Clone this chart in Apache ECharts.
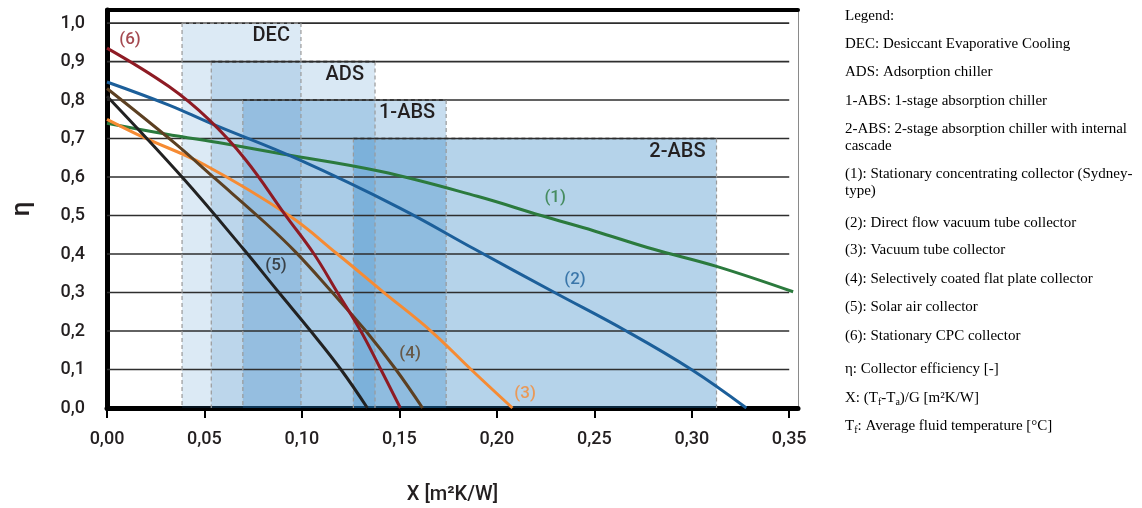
<!DOCTYPE html>
<html><head><meta charset="utf-8">
<script src="https://cdn.jsdelivr.net/npm/echarts@6/dist/echarts.min.js"></script>
<style>html,body{margin:0;padding:0;background:#fff}#c{width:1142px;height:508px}</style>
</head><body><div id="c"></div>
<script>
// ---------- data ----------
const curveNames = ['(1)', '(2)', '(3)', '(4)', '(5)', '(6)'];
const curve1 = [[0,0.74],[0.03,0.712],[0.06,0.687],[0.09,0.66],[0.14,0.615],[0.19,0.55],[0.2227,0.50],[0.25,0.46],[0.28,0.413],[0.3127,0.368],[0.352,0.302]];
const curve2 = [[0,0.847],[0.0318,0.787],[0.053,0.74],[0.0985,0.645],[0.15,0.52],[0.1885,0.413],[0.2296,0.30],[0.2664,0.20],[0.2998,0.10],[0.328,0]];
const curve3 = [[0,0.75],[0.018,0.705],[0.05,0.632],[0.0934,0.50],[0.1182,0.40],[0.1413,0.303],[0.1662,0.20],[0.1868,0.10],[0.208,0]];
const curve4 = [[0,0.83],[0.0343,0.69],[0.0557,0.595],[0.0814,0.48],[0.0968,0.405],[0.1156,0.30],[0.1328,0.20],[0.1482,0.10],[0.1619,0]];
const curve5 = [[0,0.81],[0.0385,0.60],[0.07,0.413],[0.0882,0.30],[0.1045,0.20],[0.12,0.10],[0.1336,0]];
const curve6 = [[0,0.935],[0.0318,0.835],[0.0523,0.749],[0.0711,0.645],[0.0917,0.50],[0.1062,0.40],[0.1182,0.30],[0.1302,0.20],[0.1405,0.10],[0.1505,0]];
const curveLabelPos = [[0.2299,0.545],[0.2401,0.332],[0.2145,0.036],[0.1555,0.140],[0.0867,0.369],[0.0118,0.956]];

const regionNames = ['DEC', 'ADS', '1-ABS', '2-ABS'];
const regionStart = [0.0385, 0.0535, 0.0697, 0.1264];
const regionEnd   = [0.0995, 0.1375, 0.174, 0.3127];
const regionTop   = [1.0, 0.9, 0.8, 0.7];

const xTicks = [0, 0.05, 0.10, 0.15, 0.20, 0.25, 0.30, 0.35];
const yTicks = [0, 0.1, 0.2, 0.3, 0.4, 0.5, 0.6, 0.7, 0.8, 0.9, 1.0];
const gridEnd = 0.35;

const legendLines = [
  'Legend:',
  'DEC: Desiccant Evaporative Cooling',
  'ADS: Adsorption chiller',
  '1-ABS: 1-stage absorption chiller',
  '2-ABS: 2-stage absorption chiller with internal',
  'cascade',
  '(1): Stationary concentrating collector (Sydney-',
  'type)',
  '(2): Direct flow vacuum tube collector',
  '(3): Vacuum tube collector',
  '(4): Selectively coated flat plate collector',
  '(5): Solar air collector',
  '(6): Stationary CPC collector',
  'η: Collector efficiency [-]',
  'X: (T{s|f}-T{s|a})/G [m²K/W]',
  'T{s|f}: Average fluid temperature [°C]'
];

// ---------- styles ----------
const curveColors = ['#2b7a3d', '#1c5f9a', '#f68b33', '#5c4022', '#222222', '#8e1b24'];
const regionAlpha = [0.155, 0.17, 0.25, 0.33];
const legendY = [18, 46, 74, 103, 131, 148, 176, 193, 225, 252, 281, 309, 338, 371, 400, 428];
const FONT = 'Roboto, "DejaVu Sans", sans-serif';
const SERIF = '"Liberation Serif", "Times New Roman", serif';

const chart = echarts.init(document.getElementById('c'), null, {renderer: 'canvas'});
const curves = [curve1, curve2, curve3, curve4, curve5, curve6];

const fmtX = v => v.toFixed(2).replace('.', ',');
const fmtY = v => v.toFixed(1).replace('.', ',');

const option = {
  backgroundColor: '#fff',
  animation: false,
  grid: {left: 107, right: 344, top: 10, bottom: 100, containLabel: false, outerBoundsMode: 'none'},
  xAxis: [
    {
      type: 'value', min: 0, max: 0.3545, position: 'bottom',
      name: 'X [m²K/W]', nameLocation: 'middle', nameGap: 77,
      nameTextStyle: {fontSize: 20, color: '#231f20', fontFamily: FONT, fontWeight: 500},
      axisLine: {show: true, onZero: false, lineStyle: {color: '#000', width: 5}},
      axisTick: {show: true, inside: false, length: 10, customValues: xTicks, lineStyle: {color: '#000', width: 2}},
      axisLabel: {show: true, customValues: xTicks, margin: 22, fontSize: 18, fontWeight: 500, color: '#231f20', fontFamily: FONT, formatter: fmtX},
      splitLine: {show: false}
    },
    {
      type: 'value', min: 0, max: 0.3545, position: 'top',
      axisLine: {show: true, onZero: false, lineStyle: {color: '#000', width: 4}},
      axisTick: {show: false}, axisLabel: {show: false}, splitLine: {show: false}
    }
  ],
  yAxis: [
    {
      type: 'value', min: 0, max: 1.034, position: 'left',
      name: 'η', nameLocation: 'middle', nameGap: 72,
      nameTextStyle: {fontSize: 26, color: '#231f20', fontFamily: FONT, fontWeight: 500},
      axisLine: {show: true, onZero: false, lineStyle: {color: '#000', width: 5}},
      axisTick: {show: false},
      axisLabel: {show: true, customValues: yTicks, margin: 22, fontSize: 18, fontWeight: 500, color: '#231f20', fontFamily: FONT, formatter: fmtY},
      splitLine: {show: false}
    },
    {
      type: 'value', min: 0, max: 1.034, position: 'right',
      axisLine: {show: true, onZero: false, lineStyle: {color: '#8a8a8a', width: 1}},
      axisTick: {show: false}, axisLabel: {show: false}, splitLine: {show: false}
    }
  ],
  graphic: legendLines.map((t, i) => ({
    type: 'text', left: 845, top: legendY[i] - 9,
    style: {
      text: t, fill: '#000', fontFamily: SERIF, fontSize: 15,
      rich: {s: {fontSize: 10, fontFamily: SERIF, padding: [7, 0, 0, 0], fill: '#000'}}
    }
  })),
  series: [
    // region fills
    {
      type: 'custom', z: 1, silent: true, clip: true,
      data: regionNames.map((n, i) => [regionStart[i], regionEnd[i], regionTop[i], i]),
      encode: {x: [0, 1], y: 2},
      renderItem: (params, api) => {
        const a = api.coord([api.value(0), api.value(2)]);
        const b = api.coord([api.value(1), 0]);
        return {type: 'rect', shape: {x: a[0], y: a[1], width: b[0] - a[0], height: b[1] - a[1]},
          style: {fill: 'rgba(30,120,190,' + regionAlpha[api.value(3)] + ')'}};
      }
    },
    // gridlines
    {
      type: 'custom', z: 2, silent: true,
      data: yTicks.filter(v => v > 0).map(v => [gridEnd, v]),
      encode: {x: 0, y: 1},
      renderItem: (params, api) => {
        const a = api.coord([0, api.value(1)]);
        const b = api.coord([api.value(0), api.value(1)]);
        return {type: 'line', shape: {x1: a[0], y1: a[1], x2: b[0], y2: b[1]},
          style: {stroke: '#2e2e2e', lineWidth: 1.6}};
      }
    },
    // region edges + labels
    {
      type: 'custom', z: 3, silent: true,
      data: regionNames.map((n, i) => [regionStart[i], regionEnd[i], regionTop[i], i]),
      encode: {x: [0, 1], y: 2},
      renderItem: (params, api) => {
        const i = api.value(3);
        const a = api.coord([api.value(0), api.value(2)]);
        const b = api.coord([api.value(1), 0]);
        const side = {stroke: '#9a9a9a', lineWidth: 1.2, lineDash: [4, 3]};
        const topS = i === 0 ? side : {stroke: '#2a2a2a', lineWidth: 1.6, lineDash: [4, 3]};
        return {type: 'group', children: [
          {type: 'line', shape: {x1: a[0], y1: a[1], x2: a[0], y2: b[1]}, style: side},
          {type: 'line', shape: {x1: b[0], y1: a[1], x2: b[0], y2: b[1]}, style: side},
          {type: 'line', shape: {x1: a[0], y1: a[1], x2: b[0], y2: a[1]}, style: topS},
          {type: 'text', x: b[0] - 11, y: a[1] + 13,
            style: {text: regionNames[i], align: 'right', verticalAlign: 'middle', fontSize: 20, fontWeight: 500, fontFamily: FONT, fill: '#231f20'}}
        ]};
      }
    },
    // curves
    ...curves.map((d, i) => ({
      type: 'line', name: curveNames[i], z: 4, data: d, showSymbol: false, symbol: 'none',
      smooth: 0.4, silent: true,
      lineStyle: {color: curveColors[i], width: 3}
    })),
    // curve labels
    {
      type: 'scatter', z: 5, symbolSize: 0, silent: true,
      data: curveLabelPos.map((p, i) => ({
        value: p,
        label: {show: true, position: 'inside', formatter: curveNames[i], color: curveColors[i], fontSize: 17, fontWeight: 500, fontFamily: FONT}
      }))
    }
  ]
};
chart.setOption(option);
</script>
</body></html>
